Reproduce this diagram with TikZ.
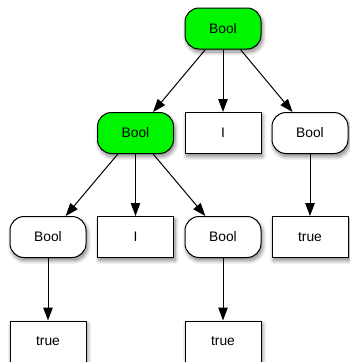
\documentclass[tikz,border=0pt]{standalone}
\usepackage{fontspec}
\setmainfont{Liberation Sans}
\usetikzlibrary{arrows.meta,shadows.blur}
\definecolor{nodegreen}{RGB}{0,245,0}
\tikzset{
  base/.style={draw=black, line width=1pt, minimum width=76pt, minimum height=41pt, inner sep=0pt,
    font=\fontsize{13.8}{16}\selectfont, fill=white,
    blur shadow={shadow xshift=1.5pt, shadow yshift=-3pt, shadow blur radius=4pt, shadow blur steps=8, shadow opacity=50}},
  roundbox/.style={base, rounded corners=14pt},
  sqbox/.style={base},
  greenbox/.style={roundbox, fill=nodegreen},
  conn/.style={draw=black, line width=1pt, -{Triangle[length=13pt,width=9.5pt]}}
}
\begin{document}
\begin{tikzpicture}[x=1pt,y=-1pt]
\useasboundingbox (0,0) rectangle (349,362);
\node[greenbox] (root) at (223,28.5) {Bool};
\node[greenbox] (b1) at (135.5,133) {Bool};
\node[sqbox] (i1) at (223,133) {I};
\node[roundbox] (b2) at (310,133) {Bool};
\node[roundbox] (b3) at (48,237) {Bool};
\node[sqbox] (i2) at (135.5,237) {I};
\node[roundbox] (b4) at (223,237) {Bool};
\node[sqbox] (t1) at (310,237) {true};
\node[sqbox] (t2) at (48,341.5) {true};
\node[sqbox] (t3) at (223,341.5) {true};
\draw[conn] (root) -- (b1);
\draw[conn] (root) -- (i1);
\draw[conn] (root) -- (b2);
\draw[conn] (b1) -- (b3);
\draw[conn] (b1) -- (i2);
\draw[conn] (b1) -- (b4);
\draw[conn] (b2) -- (t1);
\draw[conn] (b3) -- (t2);
\draw[conn] (b4) -- (t3);
\end{tikzpicture}
\end{document}
